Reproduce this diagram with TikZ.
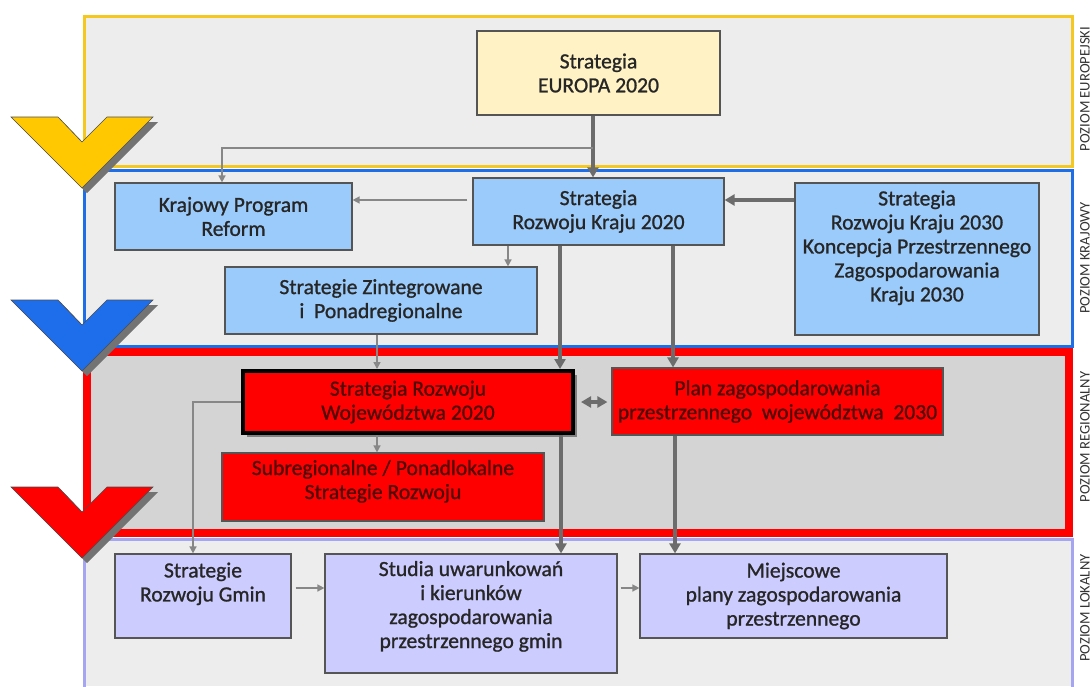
\documentclass[tikz,border=0pt]{standalone}
\usepackage{fontspec}
\setmainfont{Carlito}
\newfontfamily\boxfamily[FakeBold=1]{Carlito}
\usetikzlibrary{arrows.meta,shadows}

\definecolor{bandgray}{RGB}{237,237,237}
\definecolor{reggray}{RGB}{212,212,212}
\definecolor{euyellow}{RGB}{244,200,30}
\definecolor{krblue}{RGB}{30,110,230}
\definecolor{loklav}{RGB}{165,165,240}
\definecolor{eufill}{RGB}{255,242,196}
\definecolor{krfill}{RGB}{155,203,250}
\definecolor{lokfill}{RGB}{204,204,255}
\definecolor{regtext}{RGB}{80,10,10}
\definecolor{boxline}{RGB}{85,85,85}
\definecolor{thinline}{RGB}{135,135,135}
\definecolor{thickline}{RGB}{108,108,108}
\definecolor{chevyellow}{RGB}{255,200,0}
\definecolor{chevblue}{RGB}{30,110,235}

\begin{document}
\begin{tikzpicture}[x=0.5pt,y=-0.5pt]
        \tikzstyle{box}=[draw=boxline,line width=0.6pt,rectangle,align=center,inner sep=2pt,text=black!85,font=\boxfamily\fontsize{10.8}{12}\selectfont]
        \tikzstyle{eubox}=[box,fill=eufill]
        \tikzstyle{krbox}=[box,fill=krfill]
        \tikzstyle{regbox}=[box,fill=red,text=regtext]
        \tikzstyle{lokbox}=[box,fill=lokfill]
        \tikzstyle{poziom}=[rotate=90,inner sep=0pt,text=black!80,font=\fontsize{7.3}{8}\selectfont]
        \tikzstyle{chevron}=[draw=black!70,line width=0.3pt,drop shadow={shadow xshift=2.5pt,shadow yshift=-2.5pt,fill=black!55,opacity=1}]
        \tikzstyle{thinarrow}=[draw=thinline,line width=0.75pt,-{Triangle[length=3.5pt,width=3.5pt]}]
        \tikzstyle{thickarrow}=[draw=thickline,line width=2pt,-{Triangle[length=5pt,width=5.5pt]}]

        \useasboundingbox (0,0) rectangle (1091,686);

        \filldraw[fill=bandgray,draw=euyellow,line width=1.5pt] (84,16) rectangle (1072,166);
        \filldraw[fill=bandgray,draw=krblue,line width=1.5pt] (84,170) rectangle (1072,346);
        \filldraw[fill=reggray,draw=red,line width=4pt] (87,352) rectangle (1069,533);
        \fill[bandgray] (84,539) rectangle (1072,686);
        \draw[loklav,line width=1.5pt] (84,700) -- (84,539) -- (1072,539) -- (1072,700);

        \filldraw[chevron,fill=chevyellow,shift={(0,117)}] (11,0) -- (58,0) -- (82,25) -- (107,0) -- (153,0) -- (82,71) -- cycle;
        \filldraw[chevron,fill=chevblue,shift={(0,300)}] (11,0) -- (58,0) -- (82,25) -- (107,0) -- (153,0) -- (82,71) -- cycle;
        \filldraw[chevron,fill=red,shift={(0,487)}] (11,0) -- (58,0) -- (82,25) -- (107,0) -- (153,0) -- (82,71) -- cycle;

        \draw (1085,89) node[poziom] (pe) {POZIOM EUROPEJSKI};
        \draw (1085,258) node[poziom] (pk) {POZIOM KRAJOWY};
        \draw (1085,437) node[poziom] (pr) {POZIOM REGIONALNY};
        \draw (1085,608) node[poziom] (pl) {POZIOM LOKALNY};

        \draw (598.5,73) node[eubox,minimum width=121.5pt,minimum height=42pt] (eu) {Strategia\\EUROPA 2020};
        \draw (598.5,211.5) node[krbox,minimum width=125.5pt,minimum height=33.5pt] (srk20) {Strategia\\Rozwoju Kraju 2020};
        \draw (233.5,216.5) node[krbox,minimum width=118.5pt,minimum height=33.5pt] (kpr) {Krajowy Program\\Reform};
        \draw (917,259) node[krbox,minimum width=122pt,minimum height=76pt,text depth=13pt] (srk30) {Strategia\\Rozwoju Kraju 2030\\Koncepcja Przestrzennego\\Zagospodarowania\\Kraju 2030};
        \draw (381,300.5) node[krbox,minimum width=156pt,minimum height=33.5pt] (szp) {Strategie Zintegrowane\\i~~Ponadregionalne};
        \draw (408,402) node[regbox,draw=black,line width=2pt,minimum width=165pt,minimum height=31pt,drop shadow={shadow xshift=2pt,shadow yshift=-2pt,fill=black!50,opacity=1}] (srw) {Strategia Rozwoju\\Województwa 2020};
        \draw (777.5,401.5) node[regbox,minimum width=165.5pt,minimum height=33.5pt] (pzpw) {Plan zagospodarowania\\przestrzennego~~województwa~~2030};
        \draw (383,487) node[regbox,minimum width=161pt,minimum height=34pt,text depth=7.5pt] (sub) {Subregionalne / Ponadlokalne\\Strategie Rozwoju};
        \draw (203,596) node[lokbox,minimum width=88pt,minimum height=42pt,text depth=14pt] (srg) {Strategie\\Rozwoju Gmin};
        \draw (471,613.5) node[lokbox,minimum width=146pt,minimum height=59.5pt,text depth=9pt] (stu) {Studia uwarunkowań\\i kierunków\\zagospodarowania\\przestrzennego gmin};
        \draw (793.5,596) node[lokbox,minimum width=153.5pt,minimum height=42pt] (mpz) {Miejscowe\\plany zagospodarowania\\przestrzennego};

        \coordinate (eubr) at (593,148);

        \draw[thickarrow] ([xshift=-2.75pt]eu.south) -- ([xshift=-2.75pt]srk20.north);
        \draw[thinarrow] (eubr) -| ([xshift=-5.75pt]kpr.north);
        \draw[thinarrow,shorten <=2.5pt] ([yshift=5.75pt]srk20.west) -- ([yshift=8.25pt]kpr.east);
        \draw[thickarrow] ([yshift=29.5pt]srk30.west) -- ([yshift=5.75pt]srk20.east);
        \draw[thinarrow] ([xshift=-45.25pt]srk20.south) -- ([xshift=63.5pt]szp.north);
        \draw[thickarrow] ([xshift=-19.25pt]srk20.south) -- ([xshift=76pt]srw.north);
        \draw[thickarrow] ([xshift=37.25pt]srk20.south) -- ([xshift=-52.25pt]pzpw.north);
        \draw[thinarrow] ([xshift=-2pt]szp.south) -- ([xshift=-15.5pt]srw.north);
        \draw[thinarrow] ([xshift=-15.5pt]srw.south) -- ([xshift=-3pt]sub.north);
        \draw[thickline,line width=2pt,{Triangle[length=5pt,width=5.5pt]}-{Triangle[length=5pt,width=5.5pt]},shorten <=3pt,shorten >=2pt] (srw.east) -- (srw.east -| pzpw.west);
        \draw[thinarrow] (srw.west) -| ([xshift=-5pt]srg.north);
        \draw[thickarrow] ([xshift=76.5pt]srw.south) -- ([xshift=45pt]stu.north);
        \draw[thickarrow] ([xshift=-51.25pt]pzpw.south) -- ([xshift=-59.25pt]mpz.north);
        \draw[thinarrow,shorten <=2pt] ([yshift=4pt]srg.east) -- ([yshift=12.75pt]stu.west);
        \draw[thinarrow,shorten <=1.5pt] ([yshift=12.75pt]stu.east) -- ([yshift=4pt]mpz.west);

    \end{tikzpicture}
\end{document}
